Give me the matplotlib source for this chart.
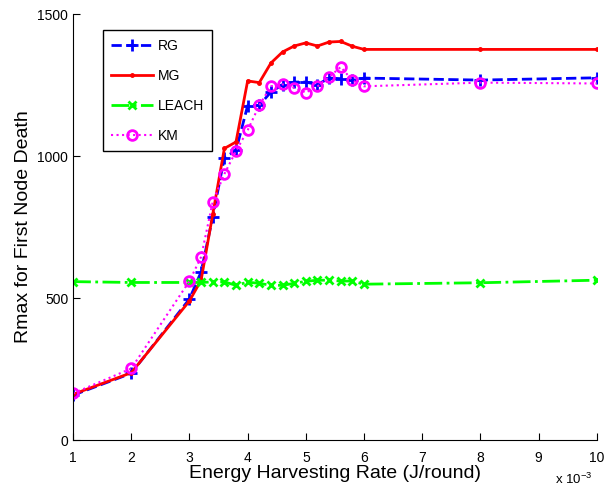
import matplotlib
matplotlib.use("Agg")
import matplotlib.pyplot as plt

plt.rcParams['font.family'] = ['Liberation Sans', 'DejaVu Sans']
plt.rcParams['mathtext.fontset'] = 'custom'
plt.rcParams['mathtext.rm'] = 'Liberation Sans'
plt.rcParams['mathtext.it'] = 'Liberation Sans'

# Energy harvesting rate (x 10^-3 J/round)
rate = [1, 2, 3, 3.2, 3.4, 3.6, 3.8, 4.0, 4.2, 4.4, 4.6, 4.8, 5.0, 5.2, 5.4, 5.6, 5.8, 6.0, 8, 10]

rg = [158, 235, 497, 592, 786, 995, 1020, 1178, 1179, 1226, 1252, 1261, 1261, 1252,
      1275, 1273, 1267, 1275, 1268, 1276]
mg = [161, 237, 490, 563, 795, 1027, 1050, 1265, 1259, 1328, 1367, 1388, 1399, 1388,
      1402, 1404, 1387, 1376, 1376, 1376]
leach = [558, 555, 555, 555, 557, 557, 545, 556, 552, 545, 545, 552, 559, 563,
         563, 560, 560, 549, 554, 563]
km = [164, 252, 560, 645, 839, 937, 1018, 1091, 1179, 1246, 1253, 1241, 1224, 1246,
      1279, 1314, 1267, 1246, 1259, 1256]

xticks = [1, 2, 3, 4, 5, 6, 7, 8, 9, 10]
yticks = [0, 500, 1000, 1500]

fig = plt.figure(figsize=(6.04, 4.90), dpi=100)
ax = fig.add_axes([0.121, 0.102, 0.867, 0.869])

ax.plot(rate, rg, color=(0, 0, 1), linestyle='--', linewidth=2, marker='+',
        markersize=9, markeredgewidth=2, label='RG')
ax.plot(rate, mg, color=(1, 0, 0), linestyle='-', linewidth=2, marker='.',
        markersize=5, label='MG')
ax.plot(rate, leach, color=(0, 1, 0), linestyle='-.', linewidth=2, marker='x',
        markersize=6, markeredgewidth=2, label='LEACH')
ax.plot(rate, km, color=(1, 0, 1), linestyle=':', linewidth=1.5, marker='o',
        markersize=7, markeredgewidth=2, markerfacecolor='none', label='KM')

ax.set_xlim(1, 10)
ax.set_ylim(0, 1500)
ax.set_xticks(xticks)
ax.set_yticks(yticks)
ax.tick_params(direction='in', length=5, labelsize=10, width=0.8)
ax.tick_params(axis='x', pad=8)
ax.spines['top'].set_visible(False)
ax.spines['right'].set_visible(False)

ax.set_xlabel('Energy Harvesting Rate (J/round)', fontsize=14, labelpad=0)
ax.set_ylabel('Rmax for First Node Death', fontsize=14, labelpad=4)

fig.text(0.949, 0.012, r'x 10$^{-3}$', fontsize=9.5, ha='center', va='baseline')

leg = ax.legend(loc='upper left', bbox_to_anchor=(0.057, 0.962), borderaxespad=0,
                fontsize=10, handlelength=3.0, handletextpad=0.35,
                labelspacing=1.15, borderpad=0.6,
                fancybox=False, framealpha=1, edgecolor='black')
leg.get_frame().set_linewidth(1.0)

fig.savefig('out.png', dpi=100)
